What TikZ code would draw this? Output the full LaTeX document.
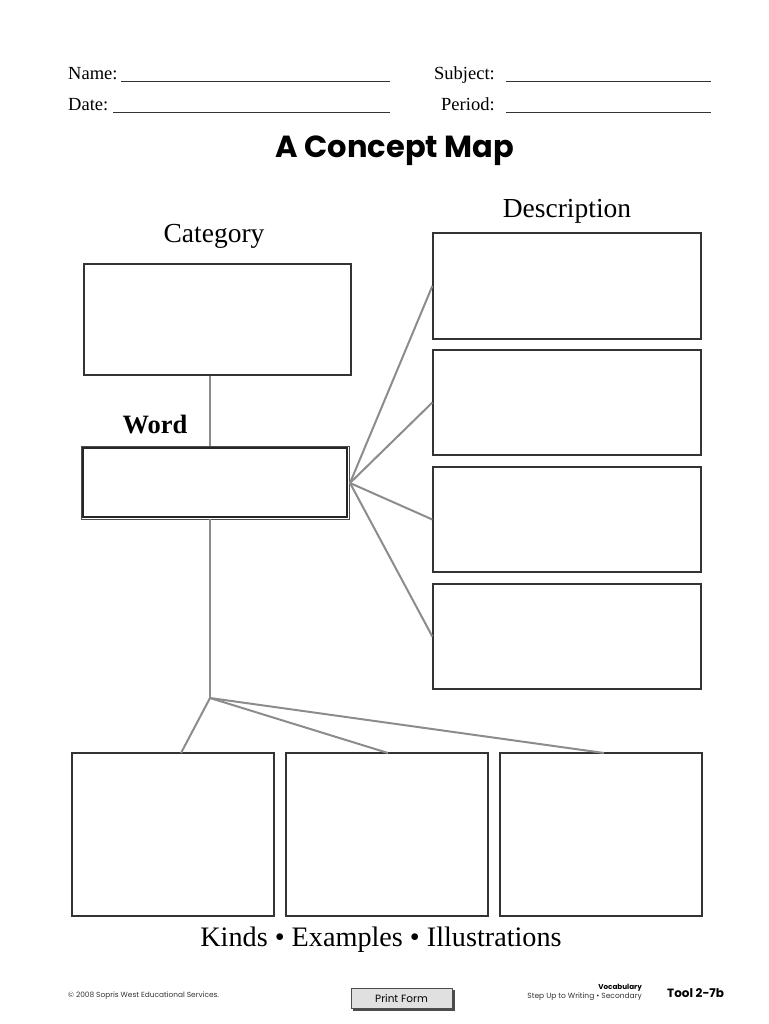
\documentclass[tikz,border=0pt]{standalone}
\usepackage{fontspec}
\setmainfont{Liberation Serif}
\newfontfamily\titlefont{Poppins}
\newfontfamily\footfont{Poppins}
\begin{document}
\begin{tikzpicture}[x=1pt,y=-1pt,
  box/.style={draw=black!80,line width=1.3pt,fill=white},
  conn/.style={draw=black!45,line width=2pt},
  field/.style={anchor=base west,inner sep=0pt,font=\fontsize{18.5}{20}\selectfont},
  rule/.style={draw=black!80,line width=0.8pt},
  head/.style={inner sep=0pt,anchor=base,font=\fontsize{27.5}{30}\selectfont}]
\useasboundingbox (0,0) rectangle (768,1024);
% header
\node[field] (nm) at (68,80) {Name:};
\coordinate (nm1) at (121,81); \coordinate (nm2) at (390,81);
\draw[rule] (nm1) -- (nm2);
\node[field] (sb) at (434,80) {Subject:};
\coordinate (sb1) at (506,81); \coordinate (sb2) at (711,81);
\draw[rule] (sb1) -- (sb2);
\node[field] (dt) at (68,111) {Date:};
\coordinate (dt1) at (113,112); \coordinate (dt2) at (390,112);
\draw[rule] (dt1) -- (dt2);
\node[field] (pd) at (441,111) {Period:};
\coordinate (pd1) at (506,112); \coordinate (pd2) at (711,112);
\draw[rule] (pd1) -- (pd2);
\node[inner sep=0pt,anchor=base,font=\titlefont\bfseries\fontsize{30.5}{34}\selectfont] (title) at (395,158) {A Concept Map};
% labels
\node[head] (desc) at (567,218) {Description};
\node[head] (cat) at (214,243) {Category};
\node[inner sep=0pt,anchor=base,font=\bfseries\fontsize{26.5}{28}\selectfont] (wl) at (155,433) {Word};
% boxes
\node[box,minimum width=267pt,minimum height=111pt] (catb) at (217.5,319.5) {};
\node[draw=black!70,line width=0.8pt,fill=white,minimum width=268pt,minimum height=73pt] (wordb) at (215,482.5) {};
\draw[draw=black!85,line width=1.3pt] (83,448) rectangle (347,517);
\node[box,minimum width=268pt,minimum height=106pt] (d1) at (567,286) {};
\node[box,minimum width=268pt,minimum height=105pt] (d2) at (567,402.5) {};
\node[box,minimum width=268pt,minimum height=105pt] (d3) at (567,519.5) {};
\node[box,minimum width=268pt,minimum height=105pt] (d4) at (567,636.5) {};
\node[box,minimum width=202pt,minimum height=163pt] (b1) at (173,834.5) {};
\node[box,minimum width=202pt,minimum height=163pt] (b2) at (387,834.5) {};
\node[box,minimum width=202pt,minimum height=163pt] (b3) at (601,834.5) {};
% connectors
\coordinate (wr) at (350,483);
\coordinate (jn) at (210,698);
\draw[conn] (catb.south -| jn) -- (wordb.north -| jn);
\draw[conn] (wordb.south -| jn) -- (jn);
\draw[conn] (wr) -- (d1.west);
\draw[conn] (wr) -- (d2.west);
\draw[conn] (wr) -- (d3.west);
\draw[conn] (wr) -- (d4.west);
\coordinate (t1) at (181,753); \coordinate (t2) at (388,753); \coordinate (t3) at (604,753);
\draw[conn] (jn) -- (t1);
\draw[conn] (jn) -- (t2);
\draw[conn] (jn) -- (t3);
\node[inner sep=0pt,anchor=base,font=\fontsize{28.2}{30}\selectfont] (kinds) at (381,946) {Kinds • Examples • Illustrations};
% footer
\node[anchor=west,inner sep=0pt,font=\footfont\fontsize{7.4}{9}\selectfont,text=black!80] (copy) at (68,996) {© 2008 Sopris West Educational Services.};
\fill[black!70] (353,990) rectangle (455,1011);
\node[draw=black!70,line width=0.8pt,fill=black!12,minimum width=101pt,minimum height=20pt,inner sep=0pt,font=\footfont\fontsize{10.5}{12}\selectfont] (pf) at (401.5,998.5) {Print Form};
\node[anchor=east,inner sep=0pt,font=\footfont\bfseries\fontsize{7.2}{8}\selectfont] (voc) at (642,988) {Vocabulary};
\node[anchor=east,inner sep=0pt,font=\footfont\fontsize{7.5}{9}\selectfont,text=black!80] (su) at (642,997) {Step Up to Writing • Secondary};
\node[anchor=west,inner sep=0pt,font=\footfont\bfseries\fontsize{12}{14}\selectfont] (tool) at (667,993) {Tool 2-7b};
\end{tikzpicture}
\end{document}
